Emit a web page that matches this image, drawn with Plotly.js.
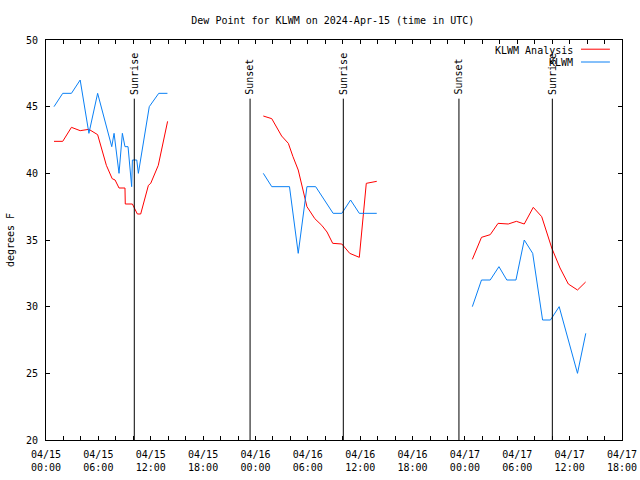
<!DOCTYPE html>
<html>
<head>
<meta charset="utf-8">
<script src="https://cdn.plot.ly/plotly-3.0.1.min.js"></script>
<style>html,body{margin:0;padding:0;background:#fff;}#chart{width:640px;height:480px;}</style>
</head>
<body>
<div id="chart"></div>
<script>
// KLWM Analysis (red)
const anaTimes = [
  '2024-04-15 00:55','2024-04-15 01:55','2024-04-15 02:55','2024-04-15 03:55','2024-04-15 04:55',
  '2024-04-15 05:55','2024-04-15 06:55','2024-04-15 07:35','2024-04-15 07:55','2024-04-15 08:22',
  '2024-04-15 09:03','2024-04-15 09:05','2024-04-15 09:54','2024-04-15 10:28','2024-04-15 10:51',
  '2024-04-15 11:44','2024-04-15 12:00','2024-04-15 12:52','2024-04-15 13:56',
  '2024-04-15 19:00',
  '2024-04-16 00:54','2024-04-16 01:52','2024-04-16 03:00','2024-04-16 03:46','2024-04-16 04:18',
  '2024-04-16 04:54','2024-04-16 05:54','2024-04-16 06:48','2024-04-16 07:36','2024-04-16 08:12',
  '2024-04-16 08:51','2024-04-16 09:54','2024-04-16 10:48','2024-04-16 11:54','2024-04-16 12:42',
  '2024-04-16 13:54',
  '2024-04-16 19:00',
  '2024-04-17 00:51','2024-04-17 01:54','2024-04-17 02:54','2024-04-17 03:48','2024-04-17 04:58',
  '2024-04-17 05:54','2024-04-17 06:48','2024-04-17 07:50','2024-04-17 08:48','2024-04-17 09:57',
  '2024-04-17 10:54','2024-04-17 11:51','2024-04-17 12:54','2024-04-17 13:50'
];
const anaDew = [
  42.4, 42.4, 43.45, 43.2, 43.3,
  42.9, 40.6, 39.6, 39.5, 38.9,
  38.9, 37.7, 37.7, 36.95, 36.95,
  39.1, 39.25, 40.6, 43.9,
  null,
  44.3, 44.1, 42.8, 42.25, 41.25,
  40.25, 37.5, 36.6, 36.1, 35.6,
  34.75, 34.7, 34.0, 33.7, 39.25,
  39.4,
  null,
  33.55, 35.2, 35.4, 36.25, 36.2,
  36.4, 36.2, 37.45, 36.75, 34.4,
  32.9, 31.7, 31.25, 31.85
];

// KLWM observations (blue)
const obsTimes = [
  '2024-04-15 00:55','2024-04-15 01:55','2024-04-15 02:55','2024-04-15 03:55','2024-04-15 04:55',
  '2024-04-15 05:55','2024-04-15 07:32','2024-04-15 07:48','2024-04-15 08:22','2024-04-15 08:45',
  '2024-04-15 09:03','2024-04-15 09:24','2024-04-15 09:49','2024-04-15 09:54','2024-04-15 10:24',
  '2024-04-15 10:35','2024-04-15 11:50','2024-04-15 12:55','2024-04-15 13:55',
  '2024-04-15 19:00',
  '2024-04-16 00:54','2024-04-16 01:52','2024-04-16 03:54','2024-04-16 04:54','2024-04-16 05:54',
  '2024-04-16 06:54','2024-04-16 08:54','2024-04-16 09:54','2024-04-16 10:54','2024-04-16 11:54',
  '2024-04-16 13:54',
  '2024-04-16 19:00',
  '2024-04-17 00:51','2024-04-17 01:54','2024-04-17 02:54','2024-04-17 03:54','2024-04-17 04:48',
  '2024-04-17 05:51','2024-04-17 06:48','2024-04-17 07:46','2024-04-17 08:54','2024-04-17 09:48',
  '2024-04-17 10:48','2024-04-17 12:54','2024-04-17 13:51'
];
const obsDew = [
  45, 46, 46, 47, 43,
  46, 42, 43, 40, 43,
  42, 42, 39, 41, 41,
  40, 45, 46, 46,
  null,
  40, 39, 39, 34, 39,
  39, 37, 37, 38, 37,
  37,
  null,
  30, 32, 32, 33, 32,
  32, 35, 34, 29, 29,
  30, 25, 28
];

// Sun events
const eventTimes = ['2024-04-15 10:07','2024-04-15 23:23','2024-04-16 10:04','2024-04-16 23:19','2024-04-17 10:01'];
const eventLabels = ['Sunrise','Sunset','Sunrise','Sunset','Sunrise'];
const eventTop = 45.6;

const seriesNames = ['KLWM Analysis','KLWM'];
const seriesColors = ['#ff0000','#0a80f5'];

const FONT = 'DejaVu Sans Mono, Liberation Mono, monospace';

const traces = [
  {x: anaTimes, y: anaDew, type: 'scatter', mode: 'lines', name: seriesNames[0],
   line: {color: seriesColors[0], width: 1}, connectgaps: false, showlegend: false},
  {x: obsTimes, y: obsDew, type: 'scatter', mode: 'lines', name: seriesNames[1],
   line: {color: seriesColors[1], width: 1}, connectgaps: false, showlegend: false}
];

const shapes = eventTimes.map(t => ({
  type: 'line', xref: 'x', yref: 'y', x0: t, x1: t, y0: 20, y1: eventTop,
  line: {color: '#000', width: 1}
}));
const annotations = eventTimes.map((t, i) => ({
  x: t, y: eventTop, xref: 'x', yref: 'y', text: eventLabels[i], showarrow: false,
  textangle: -90, xanchor: 'center', yanchor: 'bottom', yshift: 2,
  font: {family: FONT, size: 10, color: '#000'}
}));

// legend (gnuplot style: text then sample)
const legY = [0.975, 0.943];
seriesNames.forEach((n, i) => {
  annotations.push({xref: 'paper', yref: 'paper', x: 0.919, y: legY[i], text: n,
    showarrow: false, xanchor: 'right', yanchor: 'middle',
    font: {family: FONT, size: 10, color: '#000'}});
  shapes.push({type: 'line', xref: 'paper', yref: 'paper', x0: 0.9288, x1: 0.979,
    y0: legY[i] + 0.002, y1: legY[i] + 0.002, line: {color: seriesColors[i], width: 1}});
});

const layout = {
  width: 640, height: 480,
  margin: {l: 46, r: 18, t: 40, b: 40},
  paper_bgcolor: '#fff', plot_bgcolor: '#fff',
  font: {family: FONT, size: 10, color: '#000'},
  title: {text: 'Dew Point for KLWM on 2024-Apr-15 (time in UTC)', x: 0.52, xanchor: 'center',
          y: 0.958, yanchor: 'middle', font: {family: FONT, size: 10, color: '#000'}},
  showlegend: false,
  xaxis: {
    type: 'date', range: ['2024-04-15 00:00', '2024-04-17 18:00'],
    tick0: '2024-04-15 00:00', dtick: 21600000, tickformat: '%m/%d<br>%H:%M',
    ticks: 'inside', ticklen: 4, tickcolor: '#000', tickwidth: 1,
    minor: {dtick: 7200000, ticks: 'inside', ticklen: 4, tickcolor: '#000', showgrid: false},
    showline: true, linecolor: '#000', linewidth: 1, mirror: 'ticks',
    showgrid: false, zeroline: false, fixedrange: true,
    tickfont: {family: FONT, size: 10, color: '#000'}, ticklabelstandoff: 5
  },
  yaxis: {
    range: [20, 50], dtick: 5, tick0: 20,
    ticks: 'inside', ticklen: 4, tickcolor: '#000', tickwidth: 1,
    showline: true, linecolor: '#000', linewidth: 1, mirror: 'ticks',
    showgrid: false, zeroline: false, fixedrange: true,
    tickfont: {family: FONT, size: 10, color: '#000'}, ticklabelstandoff: 5,
    title: {text: 'degrees F', standoff: 9, font: {family: FONT, size: 10, color: '#000'}}
  },
  shapes: shapes,
  annotations: annotations
};

Plotly.newPlot('chart', traces, layout, {staticPlot: true, displayModeBar: false});
</script>
</body>
</html>
